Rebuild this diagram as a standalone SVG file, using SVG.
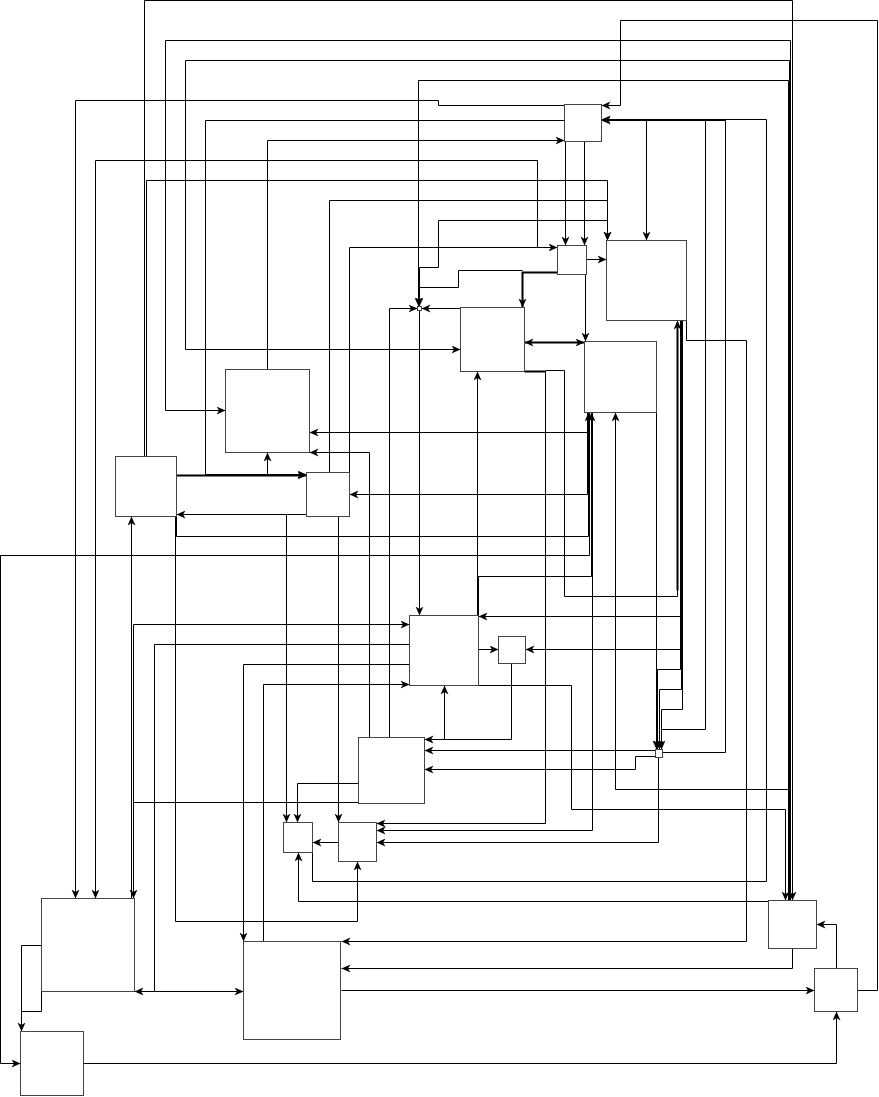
<svg xmlns="http://www.w3.org/2000/svg" width="879" height="1097" viewBox="0 0 879 1097">
<defs>
<marker id="ar" markerUnits="userSpaceOnUse" markerWidth="12" markerHeight="10" refX="9" refY="4" orient="auto-start-reverse">
<path d="M0,0 L9,4 L0,8 L2.5,4 z" fill="#000"/>
</marker>
<style>
.n rect{fill:#fff;stroke:#444;stroke-width:1}
.e path{fill:none;stroke:#000;stroke-width:1}
.e path.a{marker-end:url(#ar)}
.e path.b{marker-start:url(#ar);marker-end:url(#ar)}
.e path.t{stroke-width:2}
</style>
</defs>
<rect x="0" y="0" width="879" height="1097" fill="#fff"/>
<g class="e" id="connectors" transform="translate(0.5,0.5)">
<path class="a" d="M144,456 V0 H792 V900"/>
<path class="a" d="M857,990 H877 V20 H620 V105 H601"/>
<path class="a" d="M790,900 V40 H165 V410 H225"/>
<path class="a" d="M789,900 V60 H185 V349 H460"/>
<path class="a" d="M788,900 V80 H418 V306"/>
<path class="a" d="M564,105 H438 V100 H75 V898"/>
<path class="a" d="M564,120 H205 V474 H306"/>
<path class="a" d="M267,369 V140 H564"/>
<path class="a" d="M349,472 V247 H557"/>
<path class="a" d="M537,247 V160 H95 V898"/>
<path class="a" d="M146,456 V180 H607 V240"/>
<path class="a" d="M329,472 V200 H607 V240"/>
<path d="M419,306 V267 H438 V220 H607 V240"/>
<path class="a t" d="M557,272 H522 V307"/>
<path class="a" d="M522,270 H458 V287 H419 V306"/>
<path class="a" d="M460,308 H421"/>
<path class="a" d="M389,737 V308 H417"/>
<path class="a" d="M419,310 V615"/>
<path class="a" d="M565,141 V245"/>
<path class="a" d="M584,141 V245"/>
<path class="a" d="M585,274 V341"/>
<path class="a" d="M586,259 H606"/>
<path class="b t" d="M524,342 H584"/>
<path class="a" d="M601,120 H646 V240"/>
<path class="a" d="M661,749 V729 H705 V120 H601"/>
<path d="M662,752 H725 V120 H705"/>
<path class="a" d="M312,852 V881 H766 V119 H601"/>
<path class="a" d="M686,320 V340 H746 V941 H341"/>
<path class="a" d="M792,948 V968 H341"/>
<path class="a" d="M341,990 H814"/>
<path class="a" d="M836,968 V924 H816"/>
<path class="a" d="M83,1063 H836 V1011"/>
<path class="a" d="M41,945 H21 V1031"/>
<path d="M41,991 V1011 H21 V1031"/>
<path class="a" d="M589,412 V555 H0 V1063 H20"/>
<path class="a" d="M587,412 V432 H309"/>
<path class="a" d="M587,412 V494 H349"/>
<path class="a" d="M176,516 V536 H588 V412"/>
<path class="a" d="M478,615 V576 H591 V412"/>
<path class="a" d="M592,412 V830 H376"/>
<path class="a" d="M788,900 V789 H615 V412"/>
<path class="a" d="M478,685 H571 V809 H785 V900"/>
<path class="a" d="M477,615 V371"/>
<path class="a" d="M524,371 H545 V823 H376"/>
<path class="t" d="M524,371 H545"/>
<path class="a" d="M545,370 H564 V596 H677 V320"/>
<path class="t" d="M677,590 V322"/>
<path class="a" d="M680,320 V616 H478"/>
<path class="a" d="M681,320 V649 H525"/>
<path class="a" d="M680,320 V669 H657 V749"/>
<path class="a" d="M681,320 V689 H659 V749"/>
<path class="a" d="M682,320 V709 H661 V749"/>
<path class="a" d="M656,412 V749"/>
<path class="a" d="M655,750 H424"/>
<path class="a" d="M655,756 H635 V769 H424"/>
<path class="a" d="M658,757 V842 H376"/>
<path class="a" d="M511,663 V739 H424"/>
<path class="a" d="M444,739 V685"/>
<path class="a" d="M478,649 H498"/>
<path class="a" d="M133,898 V624 H409"/>
<path class="a" d="M131,898 V516"/>
<path class="a" d="M358,802 H133 V898"/>
<path class="a" d="M409,644 H154 V991 H134"/>
<path class="a" d="M154,991 H243"/>
<path class="a" d="M409,664 H243 V941"/>
<path class="a" d="M263,941 V684 H409"/>
<path class="a" d="M175,516 V921 H357 V861"/>
<path class="a" d="M768,901 H298 V852"/>
<path class="a" d="M338,842 H312"/>
<path class="a" d="M358,783 H297 V822"/>
<path class="a" d="M306,514 H286 V822"/>
<path class="a" d="M286,514 H176"/>
<path class="a" d="M338,516 V822"/>
<path class="a" d="M369,737 V452 H309"/>
<path class="a t" d="M176,475 H306"/>
<path class="a" d="M267,474 V452"/>
</g>
<g class="n" transform="translate(0.5,0.5)">
<g id="nA"><rect x="564" y="104" width="37" height="37"/></g>
<g id="nB"><rect x="557" y="245" width="29" height="29"/></g>
<g id="nC"><rect x="606" y="240" width="80" height="80"/></g>
<g id="nD"><rect x="460" y="307" width="64" height="64"/></g>
<g id="nE"><rect x="584" y="341" width="72" height="71"/></g>
<g id="nF"><rect x="225" y="369" width="84" height="83"/></g>
<g id="nG"><rect x="115" y="456" width="61" height="60"/></g>
<g id="nH"><rect x="306" y="472" width="43" height="44"/></g>
<g id="nI"><rect x="409" y="615" width="69" height="70"/></g>
<g id="nJ"><rect x="498" y="636" width="27" height="27"/></g>
<g id="nK"><rect x="358" y="737" width="66" height="66"/></g>
<g id="nL"><rect x="283" y="822" width="29" height="30"/></g>
<g id="nM"><rect x="338" y="822" width="38" height="39"/></g>
<g id="nN"><rect x="41" y="898" width="93" height="93"/></g>
<g id="nO"><rect x="243" y="941" width="97" height="98"/></g>
<g id="nP"><rect x="768" y="900" width="48" height="48"/></g>
<g id="nQ"><rect x="814" y="968" width="43" height="43"/></g>
<g id="nR"><rect x="20" y="1031" width="63" height="64"/></g>
<g id="nS"><rect x="655" y="749" width="7" height="8"/></g>
<g id="nT"><rect x="417" y="306" width="4" height="4"/></g>
</g>
</svg>
